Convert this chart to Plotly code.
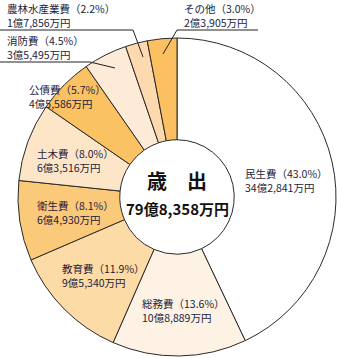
import plotly.graph_objects as go

W, H = 337, 358

categories = ["民生費", "総務費", "教育費", "衛生費", "土木費", "公債費", "消防費", "農林水産業費", "その他"]
amounts_man = [342841, 108889, 95340, 64930, 63516, 45586, 35495, 17856, 23905]  # 万円
percent_labels = ["43.0", "13.6", "11.9", "8.1", "8.0", "5.7", "4.5", "2.2", "3.0"]
amount_labels = ["34億2,841万円", "10億8,889万円", "9億5,340万円", "6億4,930万円", "6億3,516万円",
                 "4億5,586万円", "3億5,495万円", "1億7,856万円", "2億3,905万円"]
colors = ["#FFFFFF", "#FDF2E4", "#FDDBA6", "#FBC97A", "#FDE6C8", "#FBC263", "#FDEBD7", "#FCD9AE", "#FBC060"]
center_title = "歳　出"
center_total = "79億8,358万円"

FONT = "Noto Sans CJK JP"
TXT = "#1c1c3c"


def px(x):
    return x / W


def py(y):
    return 1 - y / H


fig = go.Figure(go.Pie(
    labels=categories,
    values=amounts_man,
    sort=False,
    direction="clockwise",
    rotation=0,
    hole=0.36,
    marker=dict(colors=colors, line=dict(color="#2a2a2a", width=1)),
    textinfo="none",
    hoverinfo="label+value",
    domain=dict(x=[px(18), px(336)], y=[py(356), py(38)]),
    showlegend=False,
))

# label anchor positions (pixel: left edge, vertical centre of text block)
label_pos = {
    "民生費": (243, 180),
    "総務費": (140, 310),
    "教育費": (60, 275),
    "衛生費": (35, 213),
    "土木費": (35, 160),
    "公債費": (27, 97),
    "消防費": (5, 47),
    "農林水産業費": (5, 15),
    "その他": (182, 15),
}

anns = []
for cat, pct, amt in zip(categories, percent_labels, amount_labels):
    x, y = label_pos[cat]
    anns.append(dict(
        x=px(x), y=py(y), xref="paper", yref="paper",
        xanchor="left", yanchor="middle", align="left",
        text=f"{cat}（{pct}%）<br>{amt}", showarrow=False,
        font=dict(family=FONT, size=10.5, color=TXT),
    ))

anns.append(dict(x=px(177), y=py(180), xref="paper", yref="paper", showarrow=False,
                 text=f"<b>{center_title}</b>", font=dict(family=FONT, size=20, color="#111111")))
anns.append(dict(x=px(177), y=py(208), xref="paper", yref="paper", showarrow=False,
                 text=f"<b>{center_total}</b>", font=dict(family=FONT, size=15, color="#111111")))

# leader lines for outside labels
leaders = [
    [(0, 62), (90, 62), (115, 68)],     # 消防費
    [(0, 30), (133, 30), (143, 57)],    # 農林水産業費
    [(258, 30), (177, 30), (163, 54)],  # その他
]
shapes = []
for pts in leaders:
    for (x0, y0), (x1, y1) in zip(pts[:-1], pts[1:]):
        shapes.append(dict(type="line", xref="paper", yref="paper",
                           x0=px(x0), y0=py(y0), x1=px(x1), y1=py(y1),
                           line=dict(color="#222222", width=1)))

fig.update_layout(
    width=W, height=H,
    margin=dict(l=0, r=0, t=0, b=0),
    paper_bgcolor="white",
    plot_bgcolor="white",
    annotations=anns,
    shapes=shapes,
)

fig.write_html("out.html")
